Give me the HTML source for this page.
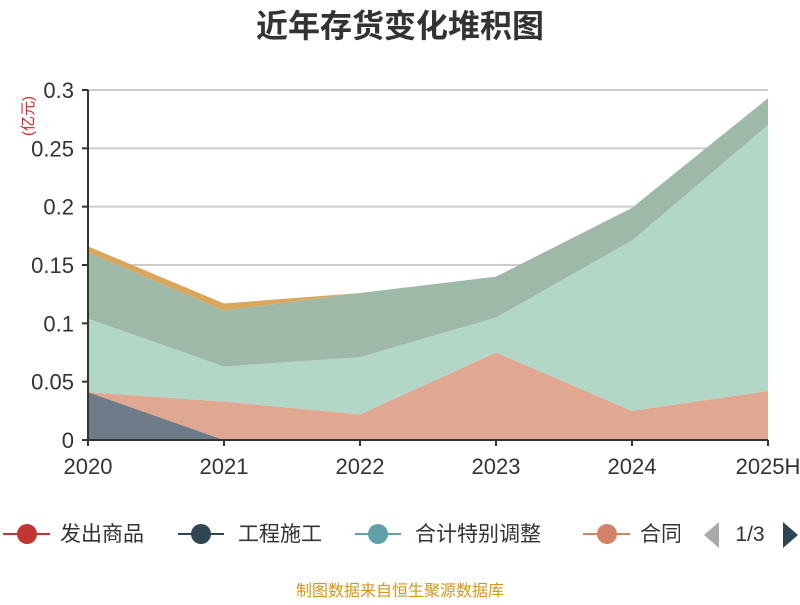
<!DOCTYPE html>
<html><head><meta charset="utf-8"><style>
body{margin:0;background:#fff;}
svg text{font-family:"Liberation Sans","Noto Sans CJK SC",sans-serif;}
</style></head><body>
<svg id="chart" width="800" height="600" xmlns="http://www.w3.org/2000/svg">
<text x="400" y="37" text-anchor="middle" font-size="32" font-weight="bold" fill="#333">近年存货变化堆积图</text>
<text transform="translate(33,116) rotate(-90)" text-anchor="middle" font-size="15" fill="#e02020">(亿元)</text>
<g id="grid"></g><g id="areas"></g><g id="axes"></g>
<g font-size="21" fill="#333">
 <g><line x1="3" y1="534" x2="50" y2="534" stroke="#c23531" stroke-width="2"/><circle cx="27" cy="534" r="10" fill="#c23531"/><text x="60" y="541">发出商品</text></g>
 <g><line x1="178" y1="534" x2="224" y2="534" stroke="#2f4554" stroke-width="2"/><circle cx="201" cy="534" r="10" fill="#2f4554"/><text x="238" y="541">工程施工</text></g>
 <g><line x1="355" y1="534" x2="401" y2="534" stroke="#61a0a8" stroke-width="2"/><circle cx="378" cy="534" r="10" fill="#61a0a8"/><text x="415" y="541">合计特别调整</text></g>
 <g><line x1="583" y1="534" x2="630" y2="534" stroke="#d48265" stroke-width="2"/><circle cx="607" cy="534" r="10" fill="#d48265"/><text x="640" y="541">合同</text></g>
 <rect x="680" y="515" width="20" height="40" fill="#fff"/>
 <polygon points="719,522 719,548 704,535" fill="#aaa"/>
 <text x="750" y="541" text-anchor="middle">1/3</text>
 <polygon points="783,522 783,548 798,535" fill="#2f4554"/>
</g>
<text x="400" y="596" text-anchor="middle" font-size="16" fill="#d4961e">制图数据来自恒生聚源数据库</text>
</svg>
<script>
const categories=["2020","2021","2022","2023","2024","2025H"];
const gongcheng=[0.041,0,0,0,0,0];
const hetong=[0,0.033,0.022,0.075,0.025,0.042];
const heji=[0.063,0.030,0.049,0.030,0.146,0.228];
const other=[0.057,0.048,0.055,0.035,0.028,0.023];
const fachu=[0.005,0.006,0,0,0,0];
const yTicks=[0,0.05,0.1,0.15,0.2,0.25,0.3];
const NS="http://www.w3.org/2000/svg";
const x0=88,x1=768,y0=440,y1=90,yMax=0.3;
function xs(i){return x0+(x1-x0)*i/(categories.length-1);}
function ys(v){return y0-(y0-y1)*v/yMax;}
function mk(t,a,p){const e=document.createElementNS(NS,t);for(const k in a)e.setAttribute(k,a[k]);p.appendChild(e);return e;}
const grid=document.getElementById('grid'),axes=document.getElementById('axes'),areas=document.getElementById('areas');
yTicks.forEach(v=>{
 if(v>0){const g=mk('line',{x1:x0,x2:x1,y1:ys(v),y2:ys(v),stroke:'#ccc','stroke-width':2},grid);
 
 }
 const tk=mk('line',{x1:x0-6,x2:x0,y1:ys(v),y2:ys(v),stroke:'#333','stroke-width':2},axes);
 
 
 const t=mk('text',{x:x0-14,y:ys(v)+8,'text-anchor':'end','font-size':22,fill:'#333'},axes);
 t.textContent=String(v);
 
 
});
const series=[[gongcheng,'#6e7b88','area-gongcheng'],[hetong,'#e0a892','area-hetong'],[heji,'#b2d7c6','area-heji'],[other,'#9eb9a8','area-other'],[fachu,'#d9a65c','area-fachu']];
let base=categories.map(()=>0);
series.forEach(([vals,col,name])=>{
 const top=base.map((b,i)=>b+vals[i]);
 let d='M'+top.map((v,i)=>xs(i)+','+ys(v)).join(' L');
 for(let i=categories.length-1;i>=0;i--)d+=' L'+xs(i)+','+ys(base[i]);
 const p=mk('path',{d:d+'Z',fill:col},areas);
 
 
 base=top;
});
const ya=mk('line',{x1:x0,x2:x0,y1:y1,y2:y0,stroke:'#333','stroke-width':2},axes);


const xa=mk('line',{x1:x0,x2:x1,y1:y0,y2:y0,stroke:'#333','stroke-width':2},axes);


categories.forEach((c,i)=>{
 const tk=mk('line',{x1:xs(i),x2:xs(i),y1:y0,y2:y0+6,stroke:'#333','stroke-width':2},axes);
 
 
 const t=mk('text',{x:xs(i),y:y0+34,'text-anchor':'middle','font-size':22,fill:'#333'},axes);
 t.textContent=c;
 
 
});
</script>
</body></html>
